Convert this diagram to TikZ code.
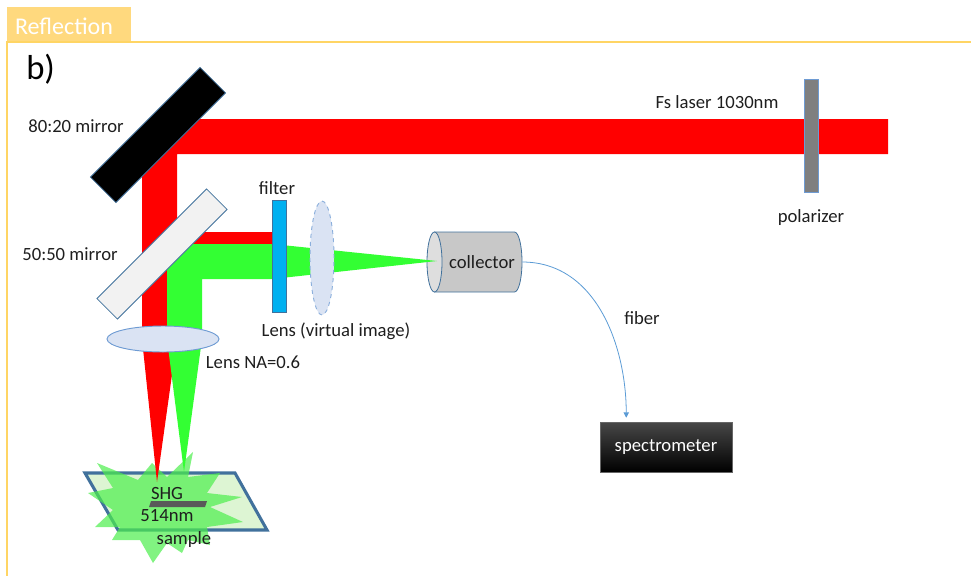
\documentclass[tikz,border=0pt]{standalone}
\usepackage{fontspec}
\setmainfont{Carlito}
\usetikzlibrary{arrows.meta,calc,shapes.geometric}
\definecolor{rfRed}{HTML}{FF0000}
\definecolor{rfGreen}{HTML}{33FF33}
\definecolor{rfStar}{HTML}{4CEE4C}
\definecolor{rfSample}{HTML}{DDF5D3}
\definecolor{rfEdge}{HTML}{41719C}
\definecolor{rfFrame}{HTML}{FFD564}
\definecolor{rfTab}{HTML}{FFD97E}
\definecolor{rfLens}{HTML}{DAE3F3}
\definecolor{rfLensEdge}{HTML}{6E9BD3}
\definecolor{rfFilter}{HTML}{00B0F0}
\definecolor{rfGlass}{HTML}{F2F2F2}
\definecolor{rfGray}{HTML}{7F7F7F}
\definecolor{rfBody}{HTML}{C8C8C8}
\definecolor{rfFace}{HTML}{DEDEDE}
\definecolor{rfFiber}{HTML}{5B9BD5}
\definecolor{rfText}{HTML}{1E1E1E}
\definecolor{rfBar}{HTML}{595959}

\begin{document}
\begin{tikzpicture}[
  x=0.75pt,y=-0.75pt,
  font=\fontsize{14}{16}\selectfont,
  tag/.style={text=rfText, inner sep=0pt},
  optic/.style={draw=rfEdge, line width=.6pt, inner sep=0pt},
  lens/.style={ellipse, fill=rfLens, draw=rfLensEdge, line width=.7pt,
               inner sep=0pt},
  fiber/.style={draw=rfFiber, line width=.6pt,
                -{Triangle[length=4pt,width=4pt]}},
]
  \path[use as bounding box] (0,0) rectangle (971,576);

  % Tab and frame
  \fill[rfTab] (7,7) rectangle (131,42);
  \node[text=white, font=\fontsize{18}{20}\selectfont] (tab) at (64,26) {Reflection};
  \draw[rfFrame, line width=1.1pt] (971,42) -- (7,42) -- (7,576);
  \node[anchor=base west, inner sep=0pt, font=\fontsize{26}{30}\selectfont]
    (part) at (26,79) {b)};

  % Sample plate with the SHG burst
  \draw[rfEdge, line width=2.3pt, fill=rfSample]
    (85,473) -- (235,473) -- (267,530) -- (118,530) -- cycle;
  \fill[rfStar, opacity=.7] (97,463) -- (138,480) -- (152,463) -- (167,477)
    -- (193,452) -- (188,477) -- (220,473) -- (207,493) -- (242,497)
    -- (210,507) -- (243,522) -- (207,527) -- (210,545) -- (188,540)
    -- (182,553) -- (167,543) -- (153,563) -- (140,540) -- (112,540)
    -- (120,527) -- (95,527) -- (113,510) -- (88,493) -- (113,488) -- cycle;

  % Beams: 1030nm in red, 514nm in green
  \fill[rfRed] (888,119) -- (174,119) -- (142,151) -- (142,339) -- (177,339)
    -- (177,154) -- (888,154) -- cycle;
  \fill[rfRed] (142,339) -- (177,339) -- (157,482) -- cycle;
  \fill[rfRed] (272,232) -- (184,232) -- (149,267) -- (272,267) -- cycle;
  \fill[rfGreen] (272,244) -- (167,244) -- (167,339) -- (202,339) -- (202,279)
    -- (272,279) -- cycle;
  \fill[rfGreen] (167,339) -- (202,339) -- (184,472) -- cycle;

  % Collector
  \draw[rfEdge, fill=rfBody, line width=.6pt] (434.5,232) -- (514.5,232)
    arc[start angle=90, end angle=-90, x radius=5.625pt, y radius=22.5pt]
    -- (434.5,292) -- cycle;
  \draw[rfEdge, fill=rfFace, line width=.6pt] (434.5,262)
    ellipse [x radius=5.625pt, y radius=22.5pt];
  \node[tag, minimum width=60pt, minimum height=45pt] (collector) at (482,262) {collector};
  \fill[rfGreen] (272,244) -- (437,261) -- (272,279) -- cycle;

  % Optics
  \node[lens, dashed, draw=rfLensEdge!80, minimum width=18pt,
        minimum height=85.5pt] (vlens) at (322,258) {};
  \node[optic, fill=rfFilter, minimum width=10.5pt, minimum height=84pt]
    (filter) at (279,256) {};
  \node[optic, draw=rfLensEdge, fill=rfGray, minimum width=10.5pt,
        minimum height=84.75pt] (polarizer) at (811,135.5) {};
  \node[optic, fill=black, minimum width=116.25pt, minimum height=27pt,
        rotate=45] (mirA) at (158,135) {};
  \node[optic, fill=rfGlass, minimum width=116.25pt, minimum height=21.75pt,
        rotate=45] (mirB) at (162,254) {};
  \node[lens, minimum width=84pt, minimum height=19.5pt] (objective) at (163,339) {};

  % Spectrometer and fiber
  \node[draw=black!60, line width=.4pt, top color=black!72, middle color=black,
        bottom color=black, text=white, minimum width=99pt, minimum height=37.5pt,
        inner sep=0pt] (spectrometer) at (666,447) {spectrometer};
  \draw[fiber, shorten >=3pt] (collector.east) to[out=0, in=90]
    ($(spectrometer.north west)!.2!(spectrometer.north east)$);

  % SHG marker on the sample
  \fill[rfBar] (151,501) -- (207,501) -- (205,507) -- (149,507) -- cycle;
  \node[tag] (shg) at (167,493) {SHG};
  \node[tag] (wave) at (167,516) {514nm};
  \node[tag] (sample) at (184,540) {sample};

  % Labels
  \node[tag] (lblA) at (76,126) {80:20 mirror};
  \node[tag] (lblB) at (70,254) {50:50 mirror};
  \node[tag] (lblFilter) at (277,188) {filter};
  \node[tag] (lblVlens) at (336,331) {Lens (virtual image)};
  \node[tag] (lblObj) at (253,362) {Lens NA=0.6};
  \node[tag] (lblFiber) at (642,318) {fiber};
  \node[tag] (lblLaser) at (717,102) {Fs laser 1030nm};
  \node[tag] (lblPol) at (811,218) {polarizer};
\end{tikzpicture}
\end{document}
